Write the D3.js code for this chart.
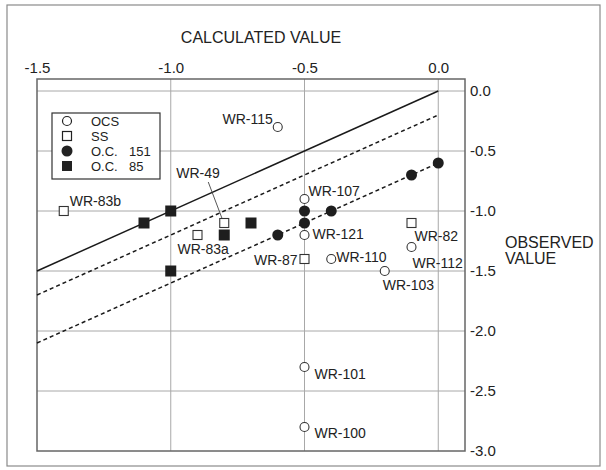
<!DOCTYPE html>
<html>
<head>
<meta charset="utf-8">
<script src="https://cdn.jsdelivr.net/npm/d3@7/dist/d3.min.js"></script>
<style>
  body { margin: 0; background: #fff; }
  svg { display: block; font-family: "Liberation Sans", Arial, sans-serif; }
</style>
</head>
<body>
<svg id="chart" width="606" height="470"></svg>
<script>
// ---------- DATA ----------
const xTicks = [-1.5, -1.0, -0.5, 0.0];
const yTicks = [0.0, -0.5, -1.0, -1.5, -2.0, -2.5, -3.0];

// OCS (open circles)
const ocsNames = ["WR-115", "WR-107", "WR-121", "WR-110", "WR-103", "WR-112", "WR-101", "WR-100"];
const ocsCalc  = [-0.6, -0.5, -0.5, -0.4, -0.2, -0.1, -0.5, -0.5];
const ocsObs   = [-0.3, -0.9, -1.2, -1.4, -1.5, -1.3, -2.3, -2.8];

// SS (open squares)
const ssNames = ["WR-83b", "WR-83a", "WR-49", "WR-87", "WR-82"];
const ssCalc  = [-1.4, -0.9, -0.8, -0.5, -0.1];
const ssObs   = [-1.0, -1.2, -1.1, -1.4, -1.1];

// O.C. 151 (filled circles)
const oc151Calc = [0.0, -0.1, -0.4, -0.5, -0.5, -0.6];
const oc151Obs  = [-0.6, -0.7, -1.0, -1.0, -1.1, -1.2];

// O.C. 85 (filled squares)
const oc85Calc = [-1.1, -1.0, -1.0, -0.8, -0.7];
const oc85Obs  = [-1.1, -1.0, -1.5, -1.2, -1.1];

// Reference lines: observed = calculated + offset
const refOffsets = [0.0, -0.2, -0.6];
const refDashed  = [false, true, true];
const refRange   = [-1.5, 0.0];

const legendLabels = ["OCS", "SS", "O.C.", "O.C."];
const legendNums   = ["", "", "151", "85"];

// ---------- LAYOUT ----------
const svg = d3.select("#chart");
const x = d3.scaleLinear().domain([-1.5, 0.1]).range([37, 465]);
const y = d3.scaleLinear().domain([0.1, -3.0]).range([79, 451]);

// outer frame
svg.append("rect").attr("x", 7).attr("y", 5).attr("width", 593).attr("height", 461)
  .attr("fill", "none").attr("stroke", "#8a8a8a").attr("stroke-width", 1.2);

// gridlines
const grid = svg.append("g");
grid.selectAll("line.v").data(xTicks.filter(d => d > -1.5)).join("line")
  .attr("x1", d => x(d)).attr("x2", d => x(d))
  .attr("y1", y(0.1)).attr("y2", y(-3.0))
  .attr("stroke", "#a8a8a8").attr("stroke-width", 1);
grid.selectAll("line.h").data(yTicks.filter(d => d > -3.0)).join("line")
  .attr("y1", d => y(d)).attr("y2", d => y(d))
  .attr("x1", x(-1.5)).attr("x2", x(0.1))
  .attr("stroke", "#a8a8a8").attr("stroke-width", 1);

// plot box
svg.append("rect").attr("x", x(-1.5)).attr("y", y(0.1))
  .attr("width", x(0.1) - x(-1.5)).attr("height", y(-3.0) - y(0.1))
  .attr("fill", "none").attr("stroke", "#666").attr("stroke-width", 1.5);

// axes
const topAxis = d3.axisTop(x).tickValues(xTicks).tickFormat(d3.format(".1f")).tickSize(0).tickPadding(6);
const gTop = svg.append("g").attr("transform", `translate(0,${y(0.1)})`).call(topAxis);
gTop.select(".domain").remove();
gTop.selectAll("text").attr("font-size", 15).attr("fill", "#222")
  .attr("font-family", "Liberation Sans, Arial, sans-serif")
  .text(d => d3.format(".1f")(d).replace("−", "-"));

const rightAxis = d3.axisRight(y).tickValues(yTicks).tickFormat(d3.format(".1f")).tickSize(0).tickPadding(5);
const gRight = svg.append("g").attr("transform", `translate(${x(0.1)},0)`).call(rightAxis);
gRight.select(".domain").remove();
gRight.selectAll("text").attr("font-size", 15).attr("fill", "#222")
  .attr("font-family", "Liberation Sans, Arial, sans-serif")
  .text(d => d3.format(".1f")(d).replace("−", "-"));

// axis titles
svg.append("text").attr("x", 261).attr("y", 43).attr("text-anchor", "middle")
  .attr("font-size", 16).attr("fill", "#222").text("CALCULATED VALUE");
const obsT = svg.append("text").attr("x", 505).attr("y", 248)
  .attr("font-size", 16).attr("fill", "#222");
obsT.append("tspan").attr("x", 505).text("OBSERVED");
obsT.append("tspan").attr("x", 505).attr("dy", 16).text("VALUE");

// reference lines
const lineGen = d3.line().x(d => x(d[0])).y(d => y(d[1]));
refOffsets.forEach((off, i) => {
  svg.append("path")
    .attr("d", lineGen(refRange.map(v => [v, v + off])))
    .attr("fill", "none").attr("stroke", "#1a1a1a")
    .attr("stroke-width", 1.5)
    .attr("stroke-dasharray", refDashed[i] ? "4,3" : null);
});

// legend
const lg = svg.append("g");
lg.append("rect").attr("x", 52).attr("y", 113).attr("width", 108).attr("height", 66)
  .attr("fill", "#fff").attr("stroke", "#333").attr("stroke-width", 1.2);
const rowY = [121, 136, 151, 166];
lg.append("circle").attr("cx", 67).attr("cy", rowY[0]).attr("r", 4.5)
  .attr("fill", "#fff").attr("stroke", "#222").attr("stroke-width", 1.2);
lg.append("rect").attr("x", 62.5).attr("y", rowY[1] - 4.5).attr("width", 9).attr("height", 9)
  .attr("fill", "#fff").attr("stroke", "#222").attr("stroke-width", 1.2);
lg.append("circle").attr("cx", 67).attr("cy", rowY[2]).attr("r", 5.5).attr("fill", "#222");
lg.append("rect").attr("x", 62).attr("y", rowY[3] - 5).attr("width", 10).attr("height", 10).attr("fill", "#222");
legendLabels.forEach((t, i) => {
  const tx = lg.append("text").attr("x", 91).attr("y", rowY[i] + 4.5)
    .attr("font-size", 13).attr("fill", "#222").text(t);
  if (legendNums[i]) tx.append("tspan").attr("x", 129).text(legendNums[i]);
});

// WR-49 leader line
const i49 = ssNames.indexOf("WR-49");
svg.append("line")
  .attr("x1", x(ssCalc[i49]) - 16).attr("y1", y(ssObs[i49]) - 41)
  .attr("x2", x(ssCalc[i49]) - 2).attr("y2", y(ssObs[i49]) - 4)
  .attr("stroke", "#444").attr("stroke-width", 0.9);

// points
const pts = svg.append("g");
oc151Calc.forEach((c, i) => {
  pts.append("circle").attr("cx", x(c)).attr("cy", y(oc151Obs[i])).attr("r", 5.5).attr("fill", "#1e1e1e");
});
oc85Calc.forEach((c, i) => {
  pts.append("rect").attr("x", x(c) - 5.5).attr("y", y(oc85Obs[i]) - 5.5)
    .attr("width", 11).attr("height", 11).attr("fill", "#1e1e1e");
});
ocsCalc.forEach((c, i) => {
  pts.append("circle").attr("cx", x(c)).attr("cy", y(ocsObs[i])).attr("r", 4.5)
    .attr("fill", "#fff").attr("stroke", "#333").attr("stroke-width", 1.1);
});
ssCalc.forEach((c, i) => {
  pts.append("rect").attr("x", x(c) - 4.5).attr("y", y(ssObs[i]) - 4.5)
    .attr("width", 9).attr("height", 9)
    .attr("fill", "#fff").attr("stroke", "#333").attr("stroke-width", 1.1);
});

// labels (offsets in pixels relative to each point)
const labelOffsets = {
  "WR-115": [-5, -3, "end"], "WR-107": [4, -3, "start"], "WR-121": [8, 4, "start"],
  "WR-110": [5, 3, "start"], "WR-103": [-2, 19, "start"], "WR-112": [1, 21, "start"],
  "WR-101": [10, 12, "start"], "WR-100": [10, 11, "start"],
  "WR-83b": [6, -5, "start"], "WR-83a": [-20, 19, "start"], "WR-49": [-48, -45, "start"],
  "WR-87": [-7, 6, "end"], "WR-82": [3, 18, "start"]
};
const addLabel = (name, c, o) => {
  const off = labelOffsets[name];
  svg.append("text").attr("x", x(c) + off[0]).attr("y", y(o) + off[1])
    .attr("text-anchor", off[2]).attr("font-size", 14).attr("fill", "#222").text(name);
};
ocsNames.forEach((n, i) => addLabel(n, ocsCalc[i], ocsObs[i]));
ssNames.forEach((n, i) => addLabel(n, ssCalc[i], ssObs[i]));
</script>
</body>
</html>
